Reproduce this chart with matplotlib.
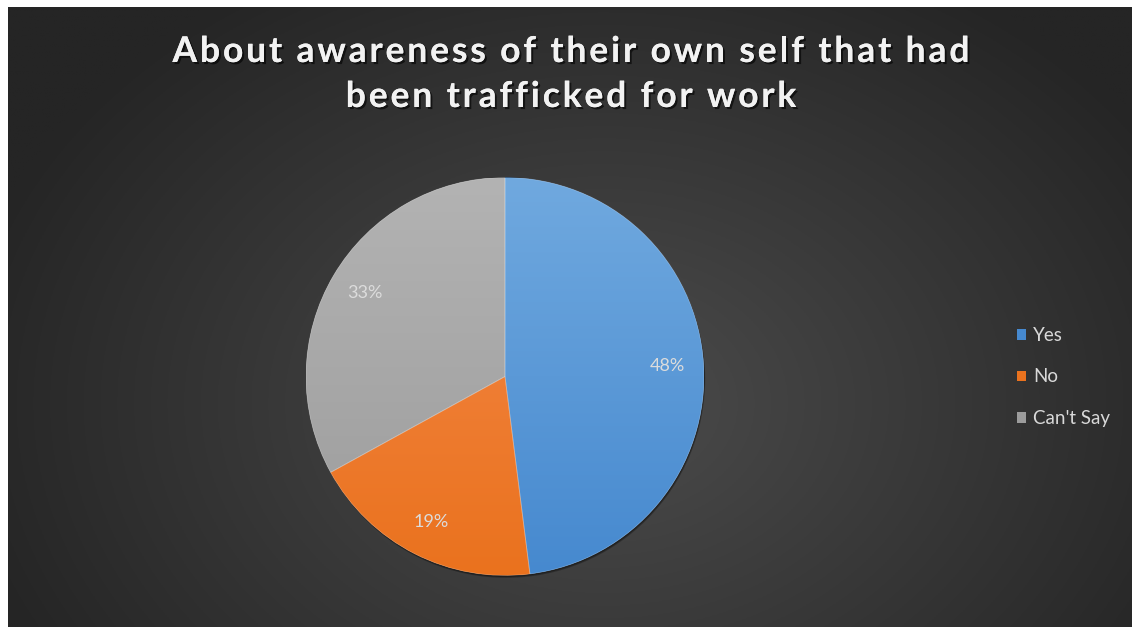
import numpy as np
import matplotlib
matplotlib.use("Agg")
import matplotlib.pyplot as plt
import matplotlib.patheffects as pe
from matplotlib.font_manager import FontProperties
from matplotlib.patches import Wedge

categories = ["Yes", "No", "Can't Say"]
values = [48, 19, 33]
pct_labels = ["48%", "19%", "33%"]
title_lines = ["About awareness of their own self that had", "been trafficked for work"]

top_colors = ["#70a9df", "#f4894a", "#b3b3b3"]
bot_colors = ["#4689cf", "#ea721e", "#9c9c9c"]

W, H = 1132, 627
fig = plt.figure(figsize=(W / 100, H / 100), dpi=100)
fig.patch.set_facecolor("white")

# background radial gradient
bg = fig.add_axes([8 / W, -0.02, 1.05, 1.02 - 7 / H])
bg.set_axis_off()
yy, xx = np.mgrid[0:300, 0:560]
cx, cy = 280 * 1.0, 150 * 1.25
r = np.sqrt(((xx - cx) / 560) ** 2 + ((yy - cy) / 300) ** 2 * 0.5)
r = np.clip(r / 0.55, 0, 1)
inner = np.array([0x4c, 0x4c, 0x4c]) / 255
outer = np.array([0x25, 0x25, 0x25]) / 255
img = inner[None, None, :] * (1 - r[..., None]) + outer[None, None, :] * r[..., None]
bg.imshow(img, aspect="auto", extent=[0, 1, 0, 1], origin="upper")
bg.set_xlim(0, 1)
bg.set_ylim(0, 1)

# pie
cxp, cyp, R = 505, 376.5, 199
ax = fig.add_axes([(cxp - R) / W, (H - cyp - R) / H, 2 * R / W, 2 * R / H])
ax.set_axis_off()
wedges, texts, autotexts = ax.pie(
    values, startangle=90, counterclock=False, radius=1,
    colors=bot_colors, autopct=lambda p: "", pctdistance=0.82,
    wedgeprops=dict(linewidth=0),
)
ax.set_xlim(-1.0, 1.0)
ax.set_ylim(-1.0, 1.0)
ax.set_aspect("equal")

# soft shadow
for k, al in [(0.012, 0.25), (0.008, 0.25), (0.004, 0.3)]:
    ax.add_patch(matplotlib.patches.Circle((k * 0.5, -k), 1.0, facecolor="black",
                                           edgecolor="none", alpha=al, zorder=0.5,
                                           clip_on=False))

def hex2rgb(h):
    h = h.lstrip("#")
    return np.array([int(h[i:i + 2], 16) for i in (0, 2, 4)]) / 255

t = np.linspace(0, 1, 256)[:, None]
for w, tc, bc in zip(wedges, top_colors, bot_colors):
    a, b = hex2rgb(tc), hex2rgb(bc)
    grad = a[None, None, :] * (1 - t[..., None]) + b[None, None, :] * t[..., None]
    grad = np.repeat(grad, 2, axis=1)
    im = ax.imshow(grad, extent=[-1, 1, -1, 1], origin="upper", aspect="auto", zorder=2)
    im.set_clip_path(w)
for w in wedges:
    ax.add_patch(Wedge(w.center, w.r, w.theta1, w.theta2, facecolor="none",
                       edgecolor=(1, 1, 1, 0.25), linewidth=0.6, zorder=5))
ax.set_xlim(-1.0, 1.0)
ax.set_ylim(-1.0, 1.0)

for at, lab in zip(autotexts, pct_labels):
    at.set_text(lab)
    at.set_color("#dcdcdc")
    at.set_fontsize(13)
    at.set_family("Lato")
    at.set_zorder(6)

# title with letter spacing
renderer = fig.canvas.get_renderer()
fp = FontProperties(family="Lato", weight="bold", size=25.5)
px = lambda s: renderer.get_text_width_height_descent(s, fp, ismath=False)[0]
bar_w = px("|")
def prefix(s):
    return px(s + "|") - bar_w if s else 0.0

target_w1 = 797.0
base_w1 = px(title_lines[0])
spacing = (target_w1 - base_w1) / (len(title_lines[0]) - 1)
baselines = [62, 107]
center_x = 571
shadow = [pe.withSimplePatchShadow(offset=(1.5, -1.5), shadow_rgbFace="black", alpha=0.6), pe.Normal()]
for line, by in zip(title_lines, baselines):
    total = px(line) + spacing * (len(line) - 1)
    x0 = center_x - total / 2
    for i, ch in enumerate(line):
        if ch == " ":
            continue
        x = x0 + prefix(line[:i]) + spacing * i
        fig.text(x / W, 1 - by / H, ch, ha="left", va="baseline", fontproperties=fp,
                 color="#f2f2f2", path_effects=shadow)

# legend
leg = fig.legend(wedges, categories, loc="center left",
                 bbox_to_anchor=(1017 / W, 1 - 377 / H), frameon=False,
                 labelcolor="#d9d9d9", prop=dict(family="Lato", size=13.5),
                 labelspacing=1.3, handlelength=0.5, handleheight=0.5,
                 handletextpad=0.35, borderpad=0, borderaxespad=0)
for h, c in zip(leg.legend_handles, bot_colors):
    h.set_edgecolor("none")
    h.set_facecolor(c)

fig.savefig("out.png", dpi=100, facecolor=fig.get_facecolor())
